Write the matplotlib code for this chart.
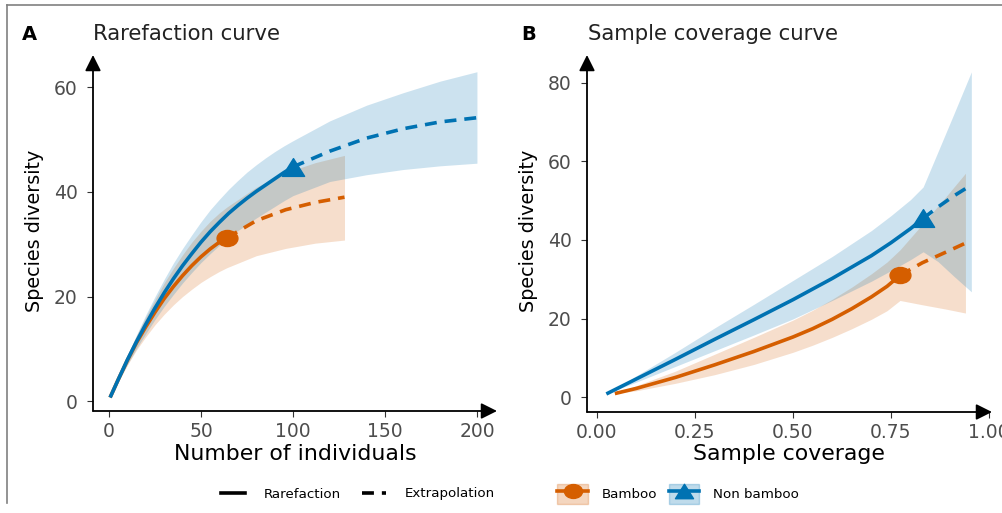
import matplotlib
matplotlib.use("Agg")
import matplotlib.pyplot as plt
from matplotlib.lines import Line2D
from matplotlib.patches import Patch
from matplotlib.path import Path
from matplotlib.markers import MarkerStyle
from matplotlib.transforms import Affine2D
import numpy as np

plt.rcParams['font.family'] = ['DejaVu Sans']

# ---------------- data ----------------
groups = ["Bamboo", "Non bamboo"]
colors = ["#D55E00", "#0072B2"]

# Panel A: rarefaction / extrapolation by number of individuals
A_bam_x = [1, 5, 10, 15, 20, 25, 30, 35, 40, 45, 50, 55, 60, 64, 80, 96, 112, 128]
A_bam_y = [1, 4.1, 7.8, 11.2, 14.2, 17, 19.6, 21.9, 24, 25.9, 27.6, 29.1, 30.4, 31.2,
           34.5, 36.6, 38, 39]
A_bam_lo = [1, 3.7, 6.9, 9.8, 12.3, 14.6, 16.6, 18.4, 20, 21.4, 22.7, 23.8, 24.8, 25.5,
            27.8, 29.2, 30.2, 30.8]
A_bam_hi = [1, 4.5, 8.7, 12.6, 16.1, 19.4, 22.6, 25.4, 28, 30.4, 32.5, 34.4, 36, 37.1,
            40.9, 43.7, 45.6, 47]
A_bam_obs = 64

A_nb_x = [1, 5, 10, 15, 20, 25, 30, 35, 40, 45, 50, 55, 60, 65, 70, 75, 80, 85, 90, 95,
          100, 120, 140, 160, 180, 200]
A_nb_y = [1, 4.1, 7.9, 11.4, 14.7, 17.8, 20.7, 23.4, 25.9, 28.2, 30.4, 32.4, 34.2, 35.9,
          37.4, 38.8, 40.1, 41.3, 42.5, 43.7, 44.8, 47.8, 50.3, 52.1, 53.4, 54.2]
A_nb_lo = [1, 3.7, 7, 10.1, 12.9, 15.6, 18.1, 20.4, 22.6, 24.6, 26.5, 28.2, 29.8, 31.3,
           32.6, 33.8, 35, 36.1, 37.2, 38.3, 39.3, 42, 43.3, 44.3, 45, 45.5]
A_nb_hi = [1, 4.5, 8.8, 12.7, 16.5, 20, 23.3, 26.4, 29.2, 31.8, 34.3, 36.6, 38.6, 40.5,
           42.2, 43.8, 45.2, 46.5, 47.7, 48.8, 49.8, 53.6, 56.6, 59, 61.2, 63]
A_nb_obs = 100

# Panel B: by sample coverage
B_bam_x = [0.05, 0.1, 0.2, 0.3, 0.4, 0.5, 0.55, 0.6, 0.65, 0.7, 0.74, 0.773, 0.83, 0.89, 0.94]
B_bam_y = [1, 2.2, 5.0, 8.2, 11.6, 15.3, 17.4, 19.8, 22.5, 25.5, 28.2, 31, 34.2, 36.9, 39.2]
B_bam_lo = [1, 1.6, 3.5, 5.7, 8.3, 11.4, 13.2, 15.2, 17.4, 19.8, 22, 24.6, 23.5, 22.4, 21.4]
B_bam_hi = [1, 2.9, 6.6, 10.9, 15.2, 19.6, 22.1, 24.9, 28, 31.4, 34.4, 37.5, 44, 51, 57]
B_bam_obs = 0.773

B_nb_x = [0.028, 0.1, 0.2, 0.3, 0.4, 0.5, 0.6, 0.7, 0.75, 0.8, 0.832, 0.87, 0.91, 0.955]
B_nb_y = [1, 4.6, 9.6, 14.7, 19.7, 24.8, 30.2, 36, 39.3, 42.9, 45.5, 48.4, 51.2, 54]
B_nb_lo = [1, 3.8, 7.8, 11.8, 15.8, 19.9, 24.6, 29.5, 32.2, 35, 37, 34.5, 30.8, 26.8]
B_nb_hi = [1, 5.4, 11.4, 17.6, 23.6, 29.7, 35.8, 42.4, 46.2, 50.3, 53.5, 62.5, 72, 82.8]
B_nb_obs = 0.832

A_xticks = [0, 50, 100, 150, 200]
A_yticks = [0, 20, 40, 60]
B_xticks = [0.00, 0.25, 0.50, 0.75, 1.00]
B_xticklabels = ["0.00", "0.25", "0.50", "0.75", "1.00"]
B_yticks = [0, 20, 40, 60, 80]

# ---------------- styles ----------------
W, H = 1003, 513
fig = plt.figure(figsize=(W / 100, H / 100), dpi=100)

def fx(px):
    return px / W

def fy(py):
    return 1 - py / H

# markers stretched horizontally like the reference image
circ = Path.unit_circle().transformed(Affine2D().scale(1.3, 1.0))
tri = MarkerStyle('^').get_path().transformed(MarkerStyle('^').get_transform()) \
    .transformed(Affine2D().scale(1.25, 1.0))
markers = [circ, tri]
msizes = [15, 16]

axA = fig.add_axes([fx(93), fy(411), fx(497) - fx(93), fy(55) - fy(411)])
axB = fig.add_axes([fx(587), fy(412), fx(992) - fx(587), fy(55) - fy(412)])

LW = 2.6
DASH = (0, (3.3, 2.2))


def draw_series(ax, x, y, lo, hi, obs, color, marker, ms):
    x = np.asarray(x, float)
    y = np.asarray(y, float)
    ax.fill_between(x, lo, hi, color=color, alpha=0.2, lw=0, zorder=1)
    rare = x <= obs + 1e-9
    ext = x >= obs - 1e-9
    ax.plot(x[rare], y[rare], color=color, lw=LW, zorder=3, solid_joinstyle='round')
    ax.plot(x[ext], y[ext], color=color, lw=LW, ls=DASH, zorder=3)
    i = int(np.argmin(np.abs(x - obs)))
    ax.plot([x[i]], [y[i]], marker=marker, color=color, ms=ms, zorder=4, ls='none')


series_A = [(A_bam_x, A_bam_y, A_bam_lo, A_bam_hi, A_bam_obs),
            (A_nb_x, A_nb_y, A_nb_lo, A_nb_hi, A_nb_obs)]
series_B = [(B_bam_x, B_bam_y, B_bam_lo, B_bam_hi, B_bam_obs),
            (B_nb_x, B_nb_y, B_nb_lo, B_nb_hi, B_nb_obs)]

for ax, series in ((axA, series_A), (axB, series_B)):
    for (x, y, lo, hi, obs), c, m, ms in zip(series, colors, markers, msizes):
        draw_series(ax, x, y, lo, hi, obs, c, m, ms)

axA.set_xlim(-8.7, 210.9)
axA.set_ylim(-1.9, 66.2)
axA.set_xticks(A_xticks)
axA.set_yticks(A_yticks)

axB.set_xlim(-0.0255, 1.0077)
axB.set_ylim(-3.8, 87.1)
axB.set_xticks(B_xticks)
axB.set_xticklabels(B_xticklabels)
axB.set_yticks(B_yticks)

for ax in (axA, axB):
    for s in ax.spines.values():
        s.set_visible(False)
    ax.set_facecolor('none')
    ax.tick_params(axis='both', labelsize=13.5, labelcolor='#4D4D4D',
                   color='#333333', width=0.8)
    ax.tick_params(axis='y', length=4, pad=7)
    ax.tick_params(axis='x', length=4, pad=4)
    arrow = dict(arrowstyle='-|>,head_length=0.6,head_width=0.3',
                 color='black', lw=1.3, mutation_scale=16,
                 shrinkA=0, shrinkB=0)
    ax.annotate('', xy=(0, 1), xytext=(0, 0), xycoords='axes fraction',
                textcoords='axes fraction', arrowprops=arrow, annotation_clip=False)
    ax.annotate('', xy=(1, 0), xytext=(0, 0), xycoords='axes fraction',
                textcoords='axes fraction', arrowprops=arrow, annotation_clip=False)

# axis labels
fig.text(fx(35), fy(231), "Species diversity", rotation=90, ha='center', va='center',
         fontsize=13.8, color='black')
fig.text(fx(529), fy(231), "Species diversity", rotation=90, ha='center', va='center',
         fontsize=13.8, color='black')
fig.text(fx(295), fy(460), "Number of individuals", ha='center', va='baseline',
         fontsize=15.8, color='black')
fig.text(fx(789), fy(460), "Sample coverage", ha='center', va='baseline',
         fontsize=15.8, color='black')

# titles & panel tags
fig.text(fx(22), fy(40), "A", fontsize=14, fontweight='bold', ha='left', va='baseline')
fig.text(fx(93), fy(40), "Rarefaction curve", fontsize=15.3, ha='left', va='baseline',
         color='#222222')
fig.text(fx(521), fy(40), "B", fontsize=14, fontweight='bold', ha='left', va='baseline')
fig.text(fx(588), fy(40), "Sample coverage curve", fontsize=15.3, ha='left', va='baseline',
         color='#222222')

# outer border (top and left)
fig.add_artist(Line2D([fx(7), 1], [fy(5), fy(5)], color='#808080', lw=1.2))
fig.add_artist(Line2D([fx(7), fx(7)], [fy(5), fy(503)], color='#808080', lw=1.2))

# legends
h1 = [Line2D([], [], color='black', lw=LW),
      Line2D([], [], color='black', lw=LW, ls=DASH)]
leg1 = fig.legend(h1, ["Rarefaction", "Extrapolation"], loc='center',
                  bbox_to_anchor=(fx(358), fy(494)), ncol=2, frameon=False,
                  fontsize=9.6, handlelength=1.8, handletextpad=1.4, columnspacing=1.6)

h2 = []
for c, m in zip(colors, markers):
    h2.append((Patch(facecolor=c, alpha=0.25, edgecolor=c, lw=1.0),
               Line2D([], [], color=c, lw=LW, marker=m, ms=13)))
leg2 = fig.legend(h2, groups, loc='center', bbox_to_anchor=(fx(678), fy(494)), ncol=2,
                  frameon=False, fontsize=9.6, handlelength=2.3, handleheight=1.9,
                  handletextpad=1.0, columnspacing=0.9)

fig.savefig("out.png", dpi=100)
